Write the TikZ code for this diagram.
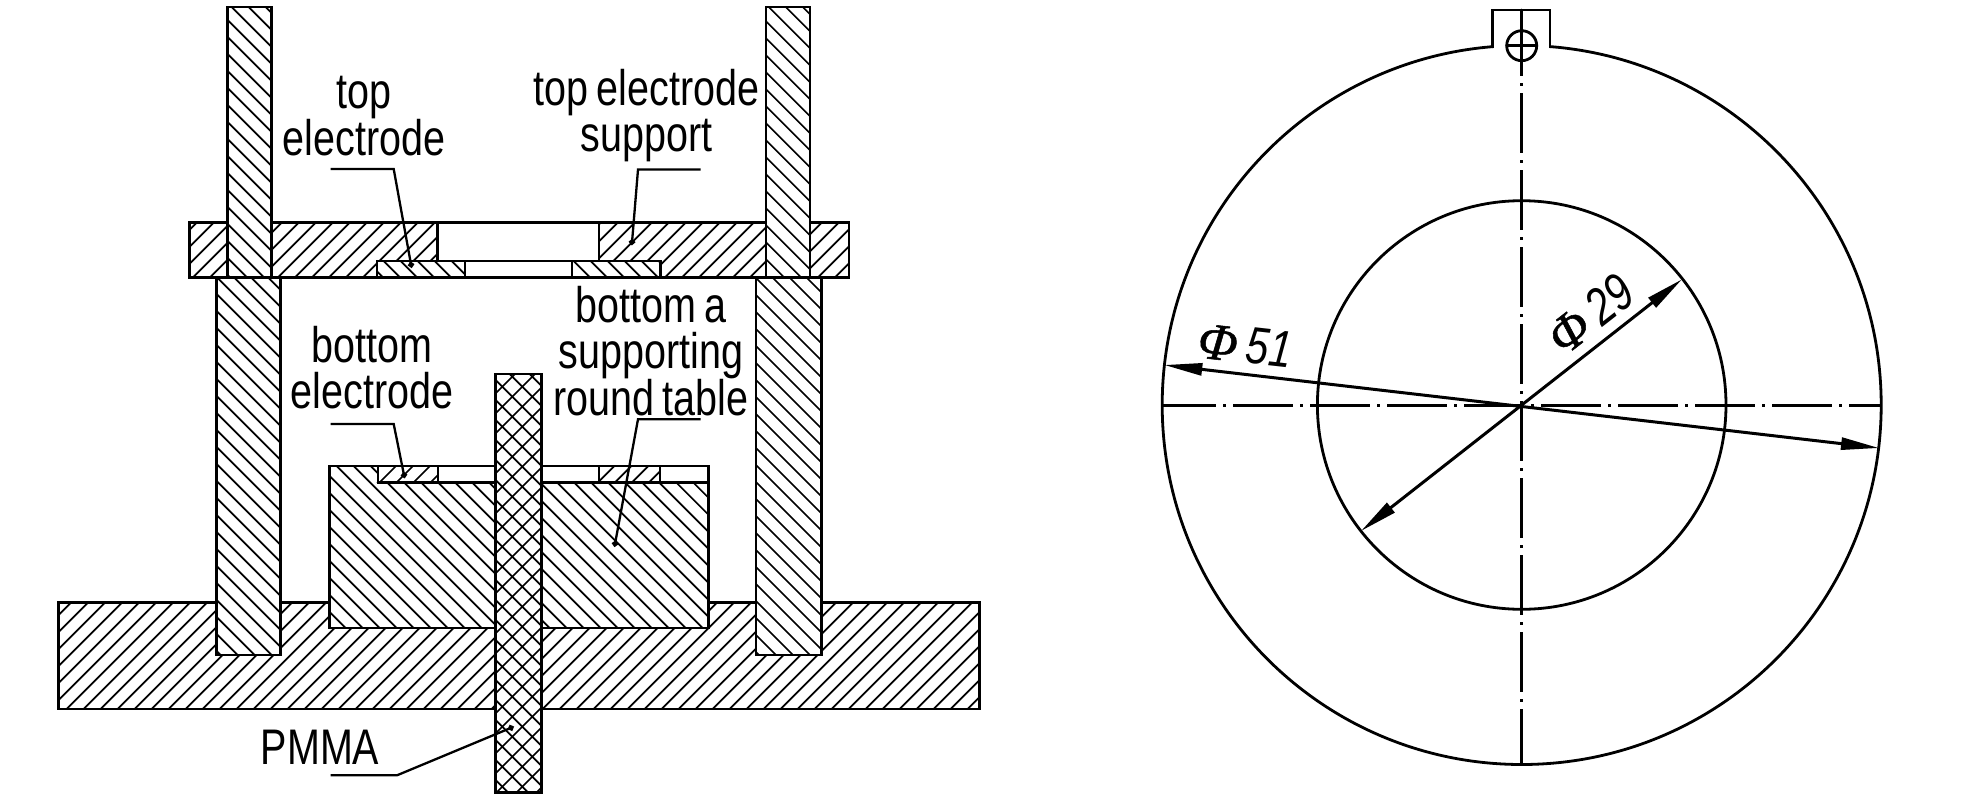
\documentclass[tikz,border=0pt]{standalone}
\usepackage{fontspec}
\usepackage{tikz}
\usetikzlibrary{arrows.meta,%
                positioning}
\newfontfamily\labelfont[FakeStretch=0.79,WordSpace=0.75]{Liberation Sans}
\newfontfamily\phifont[ItalicFeatures={FakeBold=1}]{Liberation Serif}
\tikzset{
  outline/.style={line width=2.8pt,line cap=round,line join=miter},
  hatchline/.style={line width=1.7pt},
  leaderline/.style={line width=2.3pt,-{Circle[length=6pt]}},
  centerline/.style={line width=3pt,dash pattern=on 60pt off 7pt on 3pt off 7pt},
  dimline/.style={line width=3pt,{Triangle[length=38pt,width=12pt]}-{Triangle[length=38pt,width=12pt]}},
  partlabel/.style={font=\labelfont\fontsize{50}{46}\selectfont,align=center,inner sep=0pt},
  dimlabel/.style={font=\labelfont\itshape\fontsize{52}{50}\selectfont,inner sep=0pt}
}
% x1 y1 x2 y2 direction(1 or -1) phase, optional gap
\newcommand{\hatchbox}[7][17]{%
  \begin{scope}
    \clip (#2,#3) rectangle (#4,#5);
    \pgfmathsetmacro{\ulow}{min(#2+#6*#3,#2+#6*#5)}
    \pgfmathsetmacro{\uhigh}{max(#4+#6*#3,#4+#6*#5)}
    \pgfmathtruncatemacro{\kfirst}{floor((\ulow-#7)/#1)}
    \pgfmathtruncatemacro{\klast}{ceil((\uhigh-#7)/#1)}
    \foreach \k in {\kfirst,...,\klast}{
      \pgfmathsetmacro{\uval}{#7+\k*#1}
      \draw[hatchline] ({\uval-#6*#3},#3) -- ({\uval-#6*#5},#5);
    }
  \end{scope}}
\newcommand{\partbox}[7][17]{%
  \fill[white] (#2,#3) rectangle (#4,#5);
  \hatchbox[#1]{#2}{#3}{#4}{#5}{#6}{#7}
  \draw[outline] (#2,#3) rectangle (#4,#5);}

\begin{document}
\begin{tikzpicture}[x=1pt,y=-1pt]
\useasboundingbox (0,0) rectangle (1984,803);
% base and columns
\partbox{58.7}{602.3}{979.6}{709}{1}{10.6}
\partbox{216.3}{277.7}{280.8}{655}{-1}{7.7}
\partbox{756}{277.7}{821.7}{655}{-1}{2}
% round table
\partbox{329.3}{466}{708.3}{628}{-1}{6.7}
\fill[white] (378,466) rectangle (708.3,482.7);
\draw[outline] (378,482.7) -- (708.3,482.7) -- (708.3,466) -- (378,466);
\partbox{378}{466}{438}{482.7}{1}{12}
\partbox{599}{466}{660}{482.7}{1}{9.4}
% plate
\fill[white] (189.5,222.7) rectangle (849,277.7);
\hatchbox{189.5}{222.7}{518}{277.7}{1}{11.4}
\hatchbox{518}{222.7}{849}{277.7}{1}{7.4}
\fill[white] (437.7,222.7) rectangle (599,261);
\fill[white] (377,261) rectangle (660.7,277.7);
\draw[outline] (189.5,222.7) rectangle (849,277.7);
\draw[outline] (437.7,222.7) -- (437.7,261) (599,222.7) -- (599,261);
\partbox{377}{261}{465}{277.7}{-1}{3.6}
\partbox{572}{261}{660.7}{277.7}{-1}{6.6}
\draw[outline] (465,261) -- (572,261);
% bolts
\partbox{227.5}{7}{271.5}{277.7}{-1}{3.6}
\partbox{766}{7}{810}{277.7}{-1}{13.7}
% PMMA rod
\partbox[20]{495.7}{374}{541.7}{792.7}{1}{9}
\hatchbox[20]{495.7}{374}{541.7}{792.7}{-1}{15.7}
\draw[outline] (495.7,374) rectangle (541.7,792.7);
% labels
\node[partlabel] (topel) at (364,116) {top\\electrode};
\node[partlabel] (topsup) at (646.5,116) {top electrode\\support};
\node[partlabel] (botel) at (372,368) {bottom\\electrode};
\node[partlabel] (bottab) at (651,351) {bottom a\\supporting\\round table};
\node[partlabel] (pmma) at (320,747) {PMMA};
\coordinate (topel a) at (330.6,169);
\coordinate (topel b) at (393.7,169);
\coordinate (topel c) at (411.6,267.7);
\coordinate (topsup a) at (700.7,169.5);
\coordinate (topsup b) at (638,169.5);
\coordinate (topsup c) at (631.8,245);
\coordinate (botel a) at (330.6,424);
\coordinate (botel b) at (393.7,424);
\coordinate (botel c) at (404.6,478);
\coordinate (bottab a) at (700.7,419.3);
\coordinate (bottab b) at (638,419.3);
\coordinate (bottab c) at (614.5,546.7);
\coordinate (pmma a) at (330.6,775.3);
\coordinate (pmma b) at (397,775.3);
\coordinate (pmma c) at (513.7,726.7);
\draw[leaderline] (topel a) -- (topel b) -- (topel c);
\draw[leaderline] (topsup a) -- (topsup b) -- (topsup c);
\draw[leaderline] (botel a) -- (botel b) -- (botel c);
\draw[leaderline] (bottab a) -- (bottab b) -- (bottab c);
\draw[leaderline] (pmma a) -- (pmma b) -- (pmma c);
% ring
\coordinate (ringc) at (1521.7,405);
\draw[outline] (ringc) circle (359.5);
\draw[outline] (ringc) circle (204.3);
\fill[white] (1494,11) rectangle (1549,48);
\draw[outline] (1492.7,46.7) -- (1492.7,10) -- (1550,10) -- (1550,46.7);
\coordinate (holec) at (1521.7,45.7);
\draw[outline] (holec) circle (15);
\draw[outline] (1506.7,45.7) -- (1536.7,45.7);
\coordinate (axtop) at (1521.7,10);
\coordinate (axdash) at (1521.7,18);
\coordinate (axbot) at (1521.7,765);
\coordinate (axl) at (1161.5,405);
\coordinate (axr) at (1881,405);
\draw[outline] (axtop) -- (axdash);
\draw[centerline,dash phase=2pt] (axdash) -- (axbot);
\draw[centerline,dash phase=5.5pt] (axl) -- (axr);
\coordinate (d51a) at (1164.3,365);
\coordinate (d51b) at (1879,448);
\coordinate (d29a) at (1682,279.3);
\coordinate (d29b) at (1361,531);
\draw[dimline] (d51a) -- (d51b);
\draw[dimline] (d29a) -- (d29b);
\node[dimlabel,rotate=-6.4] (phi51) at (1245,345) {{\phifont\itshape Φ}\,51};
\node[dimlabel,rotate=38] (phi29) at (1590,314) {{\phifont\itshape Φ}\,29};
\end{tikzpicture}
\end{document}
